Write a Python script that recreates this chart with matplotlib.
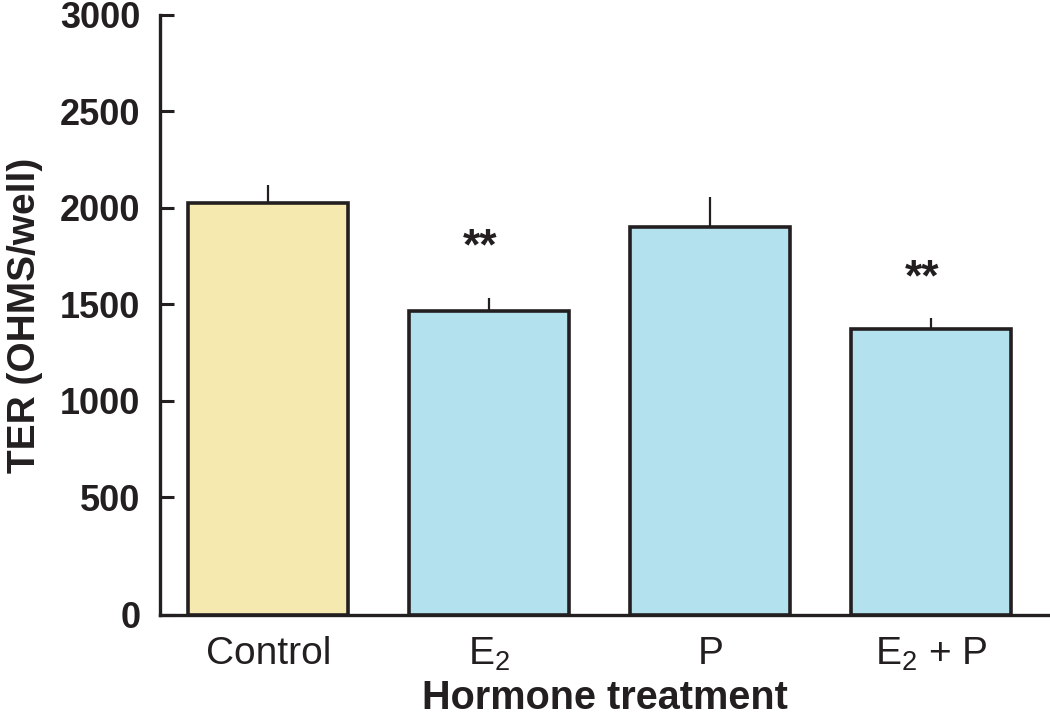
from matplotlib import pyplot as plt

plt.rcParams['font.family'] = 'Liberation Sans'
plt.rcParams['mathtext.fontset'] = 'custom'
plt.rcParams['mathtext.rm'] = 'Liberation Sans'
plt.rcParams['mathtext.it'] = 'Liberation Sans:italic'
plt.rcParams['mathtext.bf'] = 'Liberation Sans:bold'

# TER per hormone treatment (mean + upper error)
groups = ['Control', 'E$_2$', 'P', 'E$_2$ + P']
ter_mean = [2026, 1465, 1899, 1373]
ter_err = [92, 69, 159, 57]
bar_colors = ['#F6E9B0', '#B3E1EE', '#B3E1EE', '#B3E1EE']
signif = ['', '**', '', '**']
signif_y = [0, 1790, 0, 1630]

yticks = [500, 1000, 1500, 2000, 2500, 3000]
y_floor = -112  # axis is broken below 500, floor labelled as 0

ink = '#231F20'


def ter_plot():
    fig = plt.figure(figsize=(10.5, 7.15), dpi=100)
    ax = fig.add_axes([160 / 1050, 100 / 715, 890 / 1050, 600 / 715])

    x = list(range(len(groups)))
    heights = [m - y_floor for m in ter_mean]
    ax.bar(x, heights, bottom=y_floor, width=0.724, color=bar_colors,
           edgecolor=ink, linewidth=2.6, zorder=3)

    # upper error bars only, no caps
    ax.errorbar(x, ter_mean, yerr=[[0] * len(x), ter_err], fmt='none',
                ecolor=ink, elinewidth=1.6, capsize=0, zorder=2)

    for xi, s, sy in zip(x, signif, signif_y):
        if s:
            ax.text(xi - 0.04, sy, s, ha='center', va='center',
                    fontsize=32, fontweight='bold', color=ink)

    ax.set_xlim(-0.491, 3.538)
    ax.set_ylim(y_floor, 3000)

    ax.set_yticks([y_floor] + yticks)
    ax.set_yticklabels(['0'] + [str(t) for t in yticks])
    ax.tick_params(axis='y', direction='in', length=10, width=2.2,
                   color=ink, labelsize=26, pad=14, labelcolor=ink)
    for lab in ax.get_yticklabels():
        lab.set_fontweight('bold')

    ax.set_xticks(x)
    ax.set_xticklabels(groups)
    ax.tick_params(axis='x', length=0, labelsize=28, pad=15, labelcolor=ink)

    for side in ['top', 'right']:
        ax.spines[side].set_visible(False)
    for side in ['left', 'bottom']:
        ax.spines[side].set_linewidth(2.4)
        ax.spines[side].set_color(ink)

    ax.set_ylabel('TER (OHMS/well)', fontsize=28, fontweight='bold',
                  color=ink, labelpad=12)
    ax.set_xlabel('Hormone treatment', fontsize=28.5, fontweight='bold',
                  color=ink, labelpad=4)

    fig.savefig('out.png', dpi=100)


if __name__ == '__main__':
    ter_plot()
